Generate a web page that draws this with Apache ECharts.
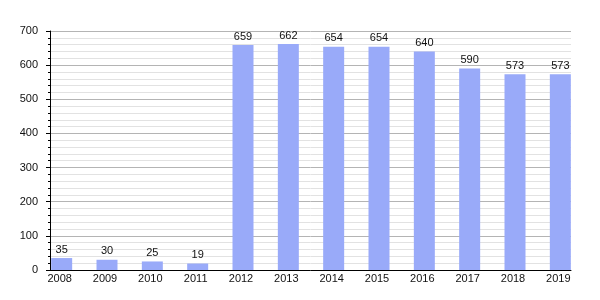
<!DOCTYPE html>
<html><head><meta charset="utf-8">
<script src="https://cdn.jsdelivr.net/npm/echarts@6/dist/echarts.min.js"></script>
<style>html,body{margin:0;padding:0;background:#fff}#c{width:600px;height:300px}</style>
</head><body><div id="c"></div>
<script>
var years = ['2008','2009','2010','2011','2012','2013','2014','2015','2016','2017','2018','2019'];
var values = [35, 30, 25, 19, 659, 662, 654, 654, 640, 590, 573, 573];
var yTicks = {min: 0, max: 700, interval: 100};

var chart = echarts.init(document.getElementById('c'), null, {renderer: 'canvas'});
var font = 'Liberation Sans, Arial, sans-serif';
chart.setOption({
  animation: false,
  grid: [
    {left: 50, right: 29, top: 31, bottom: 30},
    {left: 39, right: 17, top: 31, bottom: 30}
  ],
  xAxis: [
    {gridIndex: 0, type: 'category', data: years, boundaryGap: true,
     axisLine: {show: true, lineStyle: {color: '#000', width: 1}},
     axisTick: {show: false}, axisLabel: {show: false}, splitLine: {show: false}},
    {gridIndex: 1, type: 'category', data: years, boundaryGap: true,
     axisLine: {show: false}, axisTick: {show: false},
     axisLabel: {show: true, margin: 3, color: '#111', fontSize: 11, fontFamily: font, padding: [0, 4, 0, 0]},
     splitLine: {show: false}}
  ],
  yAxis: [
    {gridIndex: 0, type: 'value', min: yTicks.min, max: yTicks.max, interval: yTicks.interval,
     axisLine: {show: true, lineStyle: {color: '#000', width: 1}},
     axisTick: {show: true, length: 4, lineStyle: {color: '#000'}},
     minorTick: {show: true, splitNumber: 5, length: 2, lineStyle: {color: '#000'}},
     axisLabel: {margin: 12, color: '#111', fontSize: 11, fontFamily: font},
     splitLine: {show: true, lineStyle: {color: '#b4b4b4', width: 1}},
     minorSplitLine: {show: true, lineStyle: {color: '#e2e2e2', width: 1}}},
    {gridIndex: 1, type: 'value', min: yTicks.min, max: yTicks.max, interval: yTicks.interval,
     show: false, splitLine: {show: false}}
  ],
  series: [{
    type: 'bar', xAxisIndex: 1, yAxisIndex: 1, data: values, barWidth: 21,
    itemStyle: {color: '#99aaf9'},
    label: {show: true, position: 'top', distance: 3, color: '#111', fontSize: 11, fontFamily: font}
  }]
});
</script></body></html>
